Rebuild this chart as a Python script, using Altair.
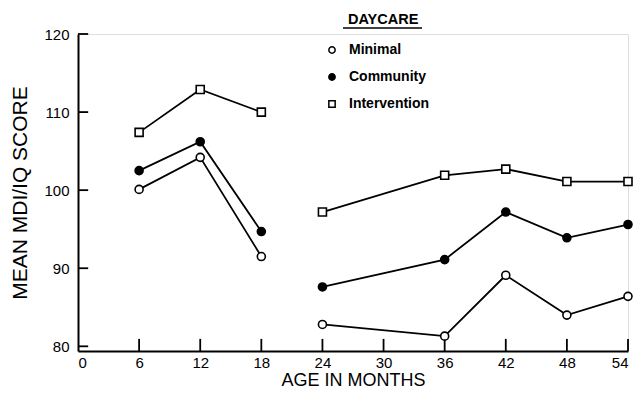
import altair as alt
import pandas as pd

# ---- data ----
ages = [6, 12, 18, 24, 36, 42, 48, 54]
minimal = [100.1, 104.2, 91.5, 82.8, 81.3, 89.1, 84.0, 86.4]
community = [102.5, 106.2, 94.7, 87.6, 91.1, 97.2, 93.9, 95.6]
intervention = [107.4, 112.9, 110.0, 97.2, 101.9, 102.7, 101.1, 101.1]
series_names = ["Minimal", "Community", "Intervention"]
legend_title = ["DAYCARE"]
x_ticks = [0, 6, 12, 18, 24, 30, 36, 42, 48, 54]
y_ticks = [80, 90, 100, 110, 120]
y_min = 79.4

rows = []
for name, vals in zip(series_names, [minimal, community, intervention]):
    for a, v in zip(ages, vals):
        rows.append({"age": a, "score": v, "daycare": name,
                     "segment": "early" if a <= 18 else "late"})
df = pd.DataFrame(rows)

FONT = "Liberation Sans"
W, H = 550, 317

xscale = alt.Scale(domain=[0, 54], nice=False, zero=False)
yscale = alt.Scale(domain=[y_min, 120], nice=False, zero=False)

x_axis = alt.Axis(values=x_ticks, ticks=False, labelPadding=4, labelFontSize=15,
                  title="AGE IN MONTHS", titleFontSize=18, titleFontWeight="normal",
                  titlePadding=1, grid=False, domainColor="black", domainWidth=2,
                  labelColor="black", titleColor="black", labelFont=FONT, titleFont=FONT)
y_axis = alt.Axis(values=y_ticks, ticks=False, labelPadding=9, labelFontSize=15,
                  title="MEAN MDI/IQ SCORE", titleFontSize=21, titleFontWeight="normal",
                  titlePadding=13, grid=False, domainColor="black", domainWidth=2,
                  labelColor="black", titleColor="black", labelFont=FONT, titleFont=FONT)

base = alt.Chart(df)

lines = base.mark_line(color="black", strokeWidth=1.8).encode(
    x=alt.X("age:Q", scale=xscale, axis=x_axis),
    y=alt.Y("score:Q", scale=yscale, axis=y_axis),
    detail=["daycare:N", "segment:N"],
)

legend = alt.Legend(
    orient="none", legendX=247, legendY=9, title=None,
    labelFontSize=14, labelFont=FONT, labelColor="black", labelFontWeight="bold",
    labelOffset=10, rowPadding=13, symbolSize=40, symbolStrokeWidth=1.5,
    padding=0,
)

points = base.mark_point(filled=False, strokeWidth=1.6, opacity=1).encode(
    x=alt.X("age:Q", scale=xscale),
    y=alt.Y("score:Q", scale=yscale),
    shape=alt.Shape("daycare:N", sort=series_names,
                    scale=alt.Scale(domain=series_names, range=["circle", "circle", "square"]),
                    legend=legend),
    fill=alt.Fill("daycare:N", sort=series_names,
                  scale=alt.Scale(domain=series_names, range=["white", "black", "white"]),
                  legend=legend),
    stroke=alt.Stroke("daycare:N", sort=series_names,
                      scale=alt.Scale(domain=series_names, range=["black", "black", "black"]),
                      legend=legend),
    size=alt.value(64),
)

# inward tick marks drawn from the tick value arrays
xt = pd.DataFrame({"t": x_ticks[1:]})
x_tick_marks = alt.Chart(xt).mark_rule(color="black", strokeWidth=1.8).encode(
    x=alt.X("t:Q", scale=xscale),
    y=alt.Y("lo:Q", scale=yscale),
    y2="hi:Q",
).transform_calculate(lo=str(y_min), hi=str(y_min + 1.55))

yt = pd.DataFrame({"t": y_ticks})
y_tick_marks = alt.Chart(yt).mark_rule(color="black", strokeWidth=1.8).encode(
    y=alt.Y("t:Q", scale=yscale),
    x=alt.X("lo:Q", scale=xscale),
    x2="hi:Q",
).transform_calculate(lo="0", hi="1.0")

# legend heading, underlined
title_df = pd.DataFrame({"label": legend_title})
legend_heading = alt.Chart(title_df).mark_text(
    align="left", baseline="alphabetic", font=FONT, fontSize=14.5,
    fontWeight="bold", color="black",
).encode(text="label:N", x=alt.value(270), y=alt.value(-10))

underline = alt.Chart(title_df).mark_rule(color="black", strokeWidth=1.5).encode(
    x=alt.value(265), x2=alt.value(344), y=alt.value(-6)
)

chart = alt.layer(lines, x_tick_marks, y_tick_marks, points, legend_heading, underline).properties(
    width=W, height=H,
    autosize=alt.AutoSizeParams(type="none"),
    padding={"left": 70, "top": 26, "right": 7, "bottom": 37},
).configure_view(stroke=None).configure(background="white")

chart.save("out.html", embed_options={"renderer": "svg", "actions": False})
